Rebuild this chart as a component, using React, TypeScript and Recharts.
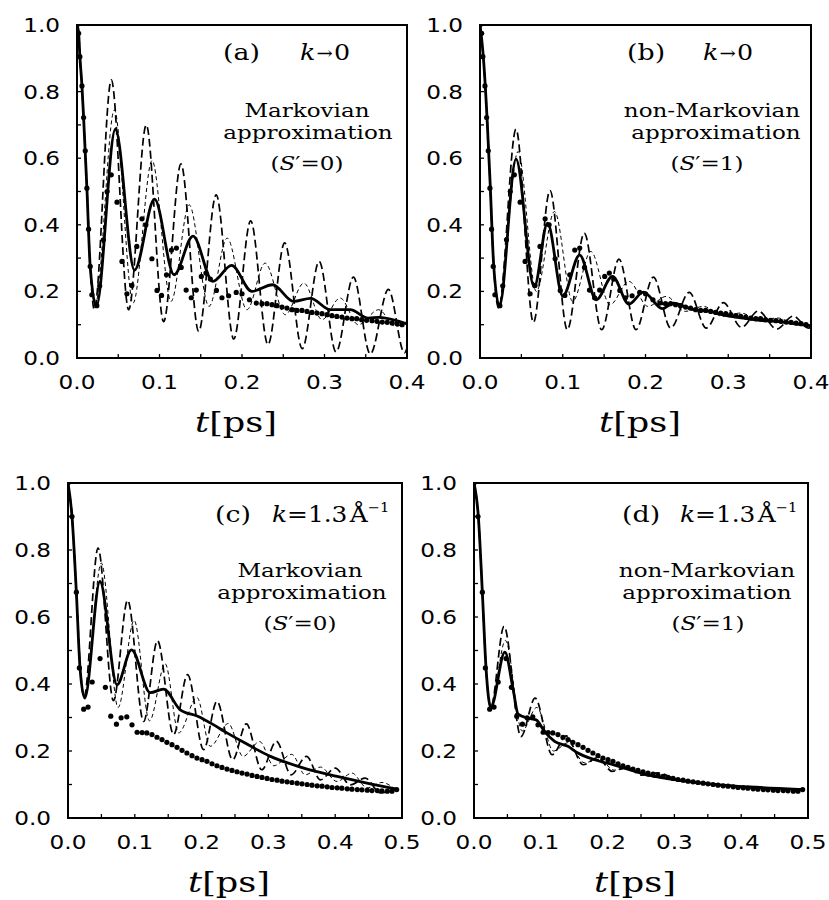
import React from 'react';
import { ComposedChart, Line, Scatter, XAxis, YAxis } from 'recharts';

type Pt = [number, number];

const yTicks = [0, 0.1, 0.2, 0.3, 0.4, 0.5, 0.6, 0.7, 0.8, 0.9, 1.0];
const xTicksK0 = [0, 0.05, 0.1, 0.15, 0.2, 0.25, 0.3, 0.35, 0.4];
const xTicksK13 = [0, 0.05, 0.1, 0.15, 0.2, 0.25, 0.3, 0.35, 0.4, 0.45, 0.5];

// MD points, k -> 0 (panels a, b)
const mdK0: Pt[] = [
  [0, 1.0], [0.002, 0.975], [0.0035, 0.905], [0.006, 0.817], [0.008, 0.722],
  [0.01, 0.622], [0.012, 0.51], [0.014, 0.387], [0.016, 0.275], [0.018, 0.19],
  [0.024, 0.157], [0.0275, 0.217], [0.032, 0.355], [0.0365, 0.5], [0.0415, 0.55],
  [0.0485, 0.468], [0.0545, 0.29], [0.0605, 0.193], [0.0665, 0.218], [0.0725, 0.335],
  [0.0787, 0.418], [0.0835, 0.4], [0.0908, 0.298], [0.097, 0.203], [0.1025, 0.188],
  [0.1085, 0.25], [0.1145, 0.324], [0.1205, 0.33], [0.1263, 0.272], [0.1323, 0.204],
  [0.1385, 0.181], [0.1446, 0.204], [0.1507, 0.245], [0.1563, 0.255], [0.1616, 0.237],
  [0.169, 0.203], [0.1757, 0.181], [0.1838, 0.187], [0.193, 0.197], [0.2, 0.193],
  [0.209, 0.175], [0.2173, 0.165], [0.2242, 0.163], [0.2303, 0.163], [0.2364, 0.16],
  [0.2424, 0.157], [0.2485, 0.153], [0.2545, 0.15], [0.2606, 0.145], [0.2667, 0.143],
  [0.2727, 0.143], [0.2788, 0.14], [0.2848, 0.137], [0.2909, 0.135], [0.297, 0.133],
  [0.303, 0.13], [0.309, 0.127], [0.315, 0.125], [0.3212, 0.123], [0.3273, 0.12],
  [0.3333, 0.118], [0.339, 0.118], [0.345, 0.115], [0.351, 0.113], [0.3576, 0.112],
  [0.3636, 0.11], [0.37, 0.108], [0.376, 0.107], [0.382, 0.105], [0.388, 0.103],
  [0.394, 0.1],
];

// MD points, k = 1.3 (panels c, d)
const mdK13: Pt[] = [
  [0, 1.0], [0.006, 0.9], [0.0125, 0.674], [0.017, 0.448], [0.0235, 0.325],
  [0.03, 0.331], [0.0362, 0.406], [0.048, 0.476], [0.056, 0.39], [0.064, 0.304],
  [0.0725, 0.28], [0.0795, 0.299], [0.088, 0.302], [0.0958, 0.278], [0.1035, 0.256],
  [0.111, 0.255], [0.118, 0.254], [0.1257, 0.249], [0.1332, 0.241], [0.1407, 0.234],
  [0.148, 0.226], [0.1557, 0.219], [0.1632, 0.211], [0.1707, 0.202], [0.178, 0.194],
  [0.1856, 0.186], [0.193, 0.179], [0.2006, 0.174], [0.208, 0.169], [0.2156, 0.162],
  [0.223, 0.156], [0.2305, 0.151], [0.238, 0.146], [0.2455, 0.142], [0.253, 0.138],
  [0.2605, 0.134], [0.268, 0.131], [0.2755, 0.127], [0.283, 0.124], [0.2904, 0.121],
  [0.298, 0.118], [0.3054, 0.115], [0.313, 0.113], [0.3204, 0.11], [0.328, 0.108],
  [0.3353, 0.106], [0.343, 0.104], [0.3503, 0.102], [0.358, 0.1], [0.3653, 0.098],
  [0.373, 0.096], [0.3803, 0.095], [0.388, 0.093], [0.3953, 0.091], [0.403, 0.09],
  [0.41, 0.089], [0.418, 0.087], [0.425, 0.086], [0.433, 0.085], [0.44, 0.084],
  [0.448, 0.083], [0.455, 0.082], [0.463, 0.082], [0.47, 0.081], [0.478, 0.08],
  [0.485, 0.08], [0.492, 0.085],
];

// panel (a)
const solidA: Pt[] = [
  [0, 1], [0.002, 0.975], [0.0035, 0.905], [0.006, 0.817], [0.008, 0.722], [0.012, 0.51],
  [0.016, 0.275], [0.0234, 0.155], [0.0465, 0.687], [0.0697, 0.264], [0.094, 0.477],
  [0.1177, 0.25], [0.1406, 0.366], [0.1646, 0.23], [0.1874, 0.278], [0.212, 0.2],
  [0.237, 0.22], [0.2626, 0.17], [0.283, 0.179], [0.307, 0.145], [0.331, 0.145],
  [0.353, 0.12], [0.366, 0.122], [0.4, 0.102],
];
const dashA: Pt[] = [
  [0, 1], [0.002, 0.975], [0.0035, 0.905], [0.006, 0.817], [0.008, 0.722], [0.012, 0.51],
  [0.016, 0.275], [0.021, 0.145], [0.0416, 0.835], [0.0626, 0.145], [0.084, 0.7],
  [0.105, 0.109], [0.126, 0.583], [0.1475, 0.08], [0.1687, 0.49], [0.19, 0.057],
  [0.2105, 0.412], [0.2315, 0.04], [0.2517, 0.346], [0.273, 0.028], [0.2935, 0.29],
  [0.314, 0.018], [0.335, 0.243], [0.3555, 0.012], [0.3775, 0.206], [0.397, 0.015],
  [0.4, 0.03],
];
const thinA: Pt[] = [
  [0, 1], [0.002, 0.975], [0.0035, 0.905], [0.006, 0.817], [0.008, 0.722], [0.012, 0.51],
  [0.016, 0.275], [0.022, 0.16], [0.0453, 0.745], [0.068, 0.165], [0.091, 0.593],
  [0.114, 0.17], [0.136, 0.46], [0.16, 0.155], [0.182, 0.36], [0.206, 0.145],
  [0.228, 0.285], [0.2525, 0.13], [0.275, 0.225], [0.297, 0.115], [0.319, 0.18],
  [0.341, 0.1], [0.3656, 0.145], [0.386, 0.095], [0.4, 0.11],
];

// panel (b)
const solidB: Pt[] = [
  [0, 1], [0.004, 0.905], [0.0085, 0.722], [0.0125, 0.51], [0.0165, 0.28], [0.0234, 0.155],
  [0.0435, 0.597], [0.0655, 0.213], [0.0816, 0.405], [0.1, 0.186], [0.1204, 0.309],
  [0.1405, 0.175], [0.16, 0.245], [0.18, 0.162], [0.1974, 0.198], [0.2205, 0.148],
  [0.2336, 0.165], [0.2578, 0.145], [0.278, 0.14], [0.298, 0.127], [0.318, 0.12],
  [0.338, 0.113], [0.3586, 0.11], [0.3786, 0.103], [0.399, 0.097],
];
const dashB: Pt[] = [
  [0, 1], [0.004, 0.905], [0.0085, 0.722], [0.0125, 0.51], [0.0165, 0.28], [0.0225, 0.15],
  [0.0435, 0.687], [0.0645, 0.107], [0.0846, 0.503], [0.1055, 0.085], [0.126, 0.375],
  [0.147, 0.085], [0.168, 0.297], [0.1885, 0.085], [0.2095, 0.243], [0.2304, 0.09],
  [0.2528, 0.197], [0.2735, 0.09], [0.294, 0.166], [0.316, 0.092], [0.3363, 0.141],
  [0.3586, 0.087], [0.3786, 0.126], [0.397, 0.09], [0.4, 0.092],
];
const thinB: Pt[] = [
  [0, 1], [0.004, 0.905], [0.0085, 0.722], [0.0125, 0.51], [0.0165, 0.28], [0.0225, 0.16],
  [0.046, 0.62], [0.068, 0.2], [0.09, 0.44], [0.112, 0.17], [0.134, 0.32], [0.157, 0.16],
  [0.18, 0.23], [0.203, 0.155], [0.225, 0.185], [0.248, 0.14], [0.27, 0.155],
  [0.293, 0.125], [0.315, 0.135], [0.338, 0.115], [0.36, 0.12], [0.383, 0.1], [0.4, 0.1],
];

// panel (c)
const solidC: Pt[] = [
  [0, 1], [0.006, 0.9], [0.0125, 0.674], [0.018, 0.448], [0.025, 0.358], [0.0478, 0.706],
  [0.0734, 0.398], [0.095, 0.502], [0.1232, 0.374], [0.143, 0.385], [0.168, 0.323],
  [0.195, 0.303], [0.213, 0.284], [0.238, 0.254], [0.263, 0.226], [0.303, 0.184],
  [0.353, 0.149], [0.403, 0.124], [0.4525, 0.102], [0.492, 0.086],
];
const dashC: Pt[] = [
  [0, 1], [0.006, 0.9], [0.0125, 0.674], [0.018, 0.46], [0.024, 0.36], [0.045, 0.806],
  [0.068, 0.35], [0.0893, 0.65], [0.1132, 0.288], [0.134, 0.529], [0.158, 0.249],
  [0.179, 0.428], [0.203, 0.204], [0.223, 0.348], [0.2465, 0.174], [0.267, 0.281],
  [0.29, 0.144], [0.312, 0.229], [0.334, 0.129], [0.357, 0.184], [0.378, 0.114],
  [0.4, 0.149], [0.4226, 0.099], [0.445, 0.119], [0.4675, 0.075], [0.49, 0.087],
];
const thinC: Pt[] = [
  [0, 1], [0.006, 0.9], [0.0125, 0.674], [0.018, 0.46], [0.025, 0.36], [0.0499, 0.761],
  [0.075, 0.33], [0.099, 0.59], [0.122, 0.29], [0.1455, 0.46], [0.1657, 0.254],
  [0.193, 0.36], [0.213, 0.214], [0.24, 0.282], [0.262, 0.184], [0.287, 0.228],
  [0.308, 0.156], [0.335, 0.19], [0.355, 0.129], [0.378, 0.152], [0.4027, 0.109],
  [0.425, 0.134], [0.4477, 0.09], [0.47, 0.106], [0.49, 0.085],
];

// panel (d)
const solidD: Pt[] = [
  [0, 1], [0.0065, 0.9], [0.0125, 0.674], [0.018, 0.448], [0.0252, 0.33], [0.0462, 0.495],
  [0.0585, 0.385], [0.066, 0.31], [0.0808, 0.298], [0.093, 0.293], [0.1057, 0.258],
  [0.1207, 0.229], [0.1406, 0.214], [0.1556, 0.194], [0.1805, 0.174], [0.2104, 0.158],
  [0.263, 0.127], [0.313, 0.111], [0.363, 0.0995], [0.413, 0.0925], [0.463, 0.0876],
  [0.4935, 0.085],
];
const dashD: Pt[] = [
  [0, 1], [0.0065, 0.9], [0.0125, 0.674], [0.018, 0.448], [0.025, 0.33], [0.045, 0.572],
  [0.0703, 0.243], [0.0915, 0.358], [0.117, 0.189], [0.138, 0.245], [0.1635, 0.159],
  [0.185, 0.18], [0.207, 0.139], [0.228, 0.152], [0.251, 0.128], [0.275, 0.135],
  [0.3, 0.118], [0.35, 0.103], [0.4, 0.093], [0.45, 0.088], [0.495, 0.085],
];
const thinD: Pt[] = [
  [0, 1], [0.0065, 0.9], [0.0125, 0.674], [0.018, 0.448], [0.025, 0.33], [0.047, 0.53],
  [0.072, 0.26], [0.094, 0.33], [0.119, 0.2], [0.141, 0.225], [0.165, 0.165],
  [0.187, 0.175], [0.21, 0.143], [0.232, 0.148], [0.256, 0.127], [0.3, 0.115],
  [0.35, 0.102], [0.4, 0.093], [0.45, 0.088], [0.495, 0.085],
];

const SANS = 'DejaVu Sans';
const SERIF = 'DejaVu Serif';
const SX = 1.22;

const toPts = (a: Pt[]) => a.map(([t, v]) => ({ t, v }));

function YTick(props: any) {
  const { x, y, payload } = props;
  const v = payload.value as number;
  const lab = Math.round(v * 10) % 2 === 0;
  return (
    <g>
      <line x1={x} x2={x + 4} y1={y} y2={y} stroke="#000" strokeWidth={1.3} />
      {lab && (
        <text transform={`translate(${x - 17},${y + 7}) scale(${SX},1)`} textAnchor="end"
          fontFamily={SANS} fontSize={19} fill="#000">
          {v.toFixed(1)}
        </text>
      )}
    </g>
  );
}

function XTick(props: any) {
  const { x, y, payload } = props;
  const v = payload.value as number;
  const lab = Math.round(v * 100) % 10 === 0;
  return (
    <g>
      <line x1={x} x2={x} y1={y} y2={y - 4} stroke="#000" strokeWidth={1.3} />
      {lab && (
        <text transform={`translate(${x},${y + 31}) scale(${SX},1)`} textAnchor="middle"
          fontFamily={SANS} fontSize={19} fill="#000">
          {v.toFixed(1)}
        </text>
      )}
    </g>
  );
}

const Dot = (props: any) => <circle cx={props.cx} cy={props.cy} r={2.6} fill="#000" />;

interface PanelProps {
  left: number; top: number; right: number; bottom: number;
  xMax: number; xTicks: number[];
  thin: Pt[]; dash: Pt[]; solid: Pt[]; md: Pt[];
}

function Panel(p: PanelProps) {
  const pw = p.right - p.left;
  const ph = p.bottom - p.top;
  return (
    <>
      <div style={{ position: 'absolute', left: p.left - 70, top: p.top - 10 }}>
        <ComposedChart width={pw + 100} height={ph + 60} margin={{ top: 10, right: 30, bottom: 0, left: 0 }}>
          <XAxis type="number" dataKey="t" domain={[0, p.xMax]} ticks={p.xTicks} interval={0}
            tickSize={0} tickMargin={0} axisLine={false} tickLine={false} tick={<XTick />}
            height={50} allowDataOverflow />
          <YAxis type="number" domain={[0, 1]} ticks={yTicks} interval={0}
            tickSize={0} tickMargin={0} axisLine={false} tickLine={false} tick={<YTick />}
            width={70} allowDataOverflow />
          <Line data={toPts(p.thin)} dataKey="v" type="monotone" stroke="#000" strokeWidth={1}
            strokeDasharray="4 3" dot={false} isAnimationActive={false} />
          <Line data={toPts(p.dash)} dataKey="v" type="monotone" stroke="#000" strokeWidth={1.7}
            strokeDasharray="8 4" dot={false} isAnimationActive={false} />
          <Line data={toPts(p.solid)} dataKey="v" type="monotone" stroke="#000" strokeWidth={2.8}
            dot={false} isAnimationActive={false} />
          <Scatter data={toPts(p.md)} dataKey="v" fill="#000" shape={Dot} isAnimationActive={false} />
        </ComposedChart>
      </div>
      <div style={{
        position: 'absolute', left: p.left - 1, top: p.top - 1, width: pw + 2, height: ph + 2,
        border: '2px solid #000', boxSizing: 'border-box',
      }} />
    </>
  );
}

function Txt({ x, y, anchor = 'start', size = 18, sx = 1.28, children }: any) {
  return (
    <text transform={`translate(${x},${y}) scale(${sx},1)`} textAnchor={anchor}
      fontFamily={SERIF} fontSize={size} fill="#000">
      {children}
    </text>
  );
}

const KZero = () => (
  <>
    <tspan fontStyle="italic">k</tspan>
    <tspan fontSize={17} dx={1} dy={-1}>→</tspan>
    <tspan dx={1} dy={1}>0</tspan>
  </>
);

const KOne = () => (
  <>
    <tspan fontStyle="italic">k</tspan>
    <tspan>=1.3</tspan>
    <tspan dx={2}>Å</tspan>
    <tspan fontSize={13} dy={-10}>−1</tspan>
  </>
);

const SPrime = ({ v }: { v: string }) => (
  <>
    <tspan>(</tspan>
    <tspan fontStyle="italic">S</tspan>
    <tspan>′={v})</tspan>
  </>
);

const TPs = () => (
  <>
    <tspan fontStyle="italic">t</tspan>
    <tspan>[ps]</tspan>
  </>
);

export default function App() {
  return (
    <div style={{ position: 'absolute', left: 0, top: 0, width: 829, height: 900, background: '#fff' }}>
      <Panel left={77} top={25} right={407} bottom={358} xMax={0.4} xTicks={xTicksK0}
        thin={thinA} dash={dashA} solid={solidA} md={mdK0} />
      <Panel left={480} top={25} right={811} bottom={358} xMax={0.4} xTicks={xTicksK0}
        thin={thinB} dash={dashB} solid={solidB} md={mdK0} />
      <Panel left={68} top={483} right={402} bottom={818} xMax={0.5} xTicks={xTicksK13}
        thin={thinC} dash={dashC} solid={solidC} md={mdK13} />
      <Panel left={474} top={483} right={808} bottom={818} xMax={0.5} xTicks={xTicksK13}
        thin={thinD} dash={dashD} solid={solidD} md={mdK13} />
      <svg width={829} height={900} style={{ position: 'absolute', left: 0, top: 0, pointerEvents: 'none' }}>
        <Txt x={223} y={60} size={22} sx={1.22}>(a)</Txt>
        <Txt x={300} y={60} size={22} sx={1.15}><KZero /></Txt>
        <Txt x={307} y={117} anchor="middle">Markovian</Txt>
        <Txt x={308} y={139} anchor="middle">approximation</Txt>
        <Txt x={307} y={170} anchor="middle"><SPrime v="0" /></Txt>

        <Txt x={627} y={60} size={22} sx={1.22}>(b)</Txt>
        <Txt x={703} y={60} size={22} sx={1.15}><KZero /></Txt>
        <Txt x={712} y={117} anchor="middle">non-Markovian</Txt>
        <Txt x={716} y={139} anchor="middle">approximation</Txt>
        <Txt x={707} y={170} anchor="middle"><SPrime v="1" /></Txt>

        <Txt x={215} y={522} size={22} sx={1.22}>(c)</Txt>
        <Txt x={272} y={522} size={22} sx={1.13}><KOne /></Txt>
        <Txt x={300} y={577} anchor="middle">Markovian</Txt>
        <Txt x={302} y={599} anchor="middle">approximation</Txt>
        <Txt x={300} y={630} anchor="middle"><SPrime v="0" /></Txt>

        <Txt x={622} y={522} size={22} sx={1.22}>(d)</Txt>
        <Txt x={680} y={522} size={22} sx={1.13}><KOne /></Txt>
        <Txt x={707} y={577} anchor="middle">non-Markovian</Txt>
        <Txt x={707} y={599} anchor="middle">approximation</Txt>
        <Txt x={708} y={630} anchor="middle"><SPrime v="1" /></Txt>

        <Txt x={236} y={432} anchor="middle" size={27} sx={1.3}><TPs /></Txt>
        <Txt x={640} y={432} anchor="middle" size={27} sx={1.3}><TPs /></Txt>
        <Txt x={229} y={892} anchor="middle" size={27} sx={1.3}><TPs /></Txt>
        <Txt x={635} y={892} anchor="middle" size={27} sx={1.3}><TPs /></Txt>
      </svg>
    </div>
  );
}
